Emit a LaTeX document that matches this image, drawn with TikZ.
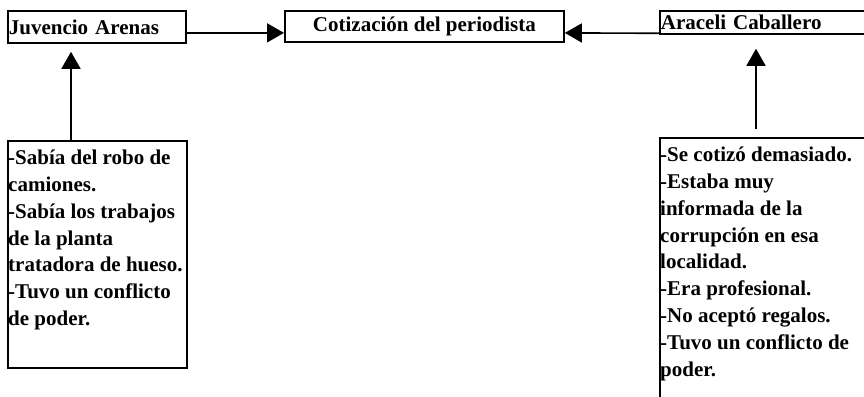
\documentclass[tikz,border=0pt]{standalone}
\usepackage{fontspec}
\setmainfont{Liberation Serif}
\usetikzlibrary{arrows.meta, positioning}

\begin{document}
\begin{tikzpicture}[x=1pt, y=-1pt,
  namebox/.style={draw, line width=1.8pt, inner sep=1pt, anchor=north west},
  boldtext/.style={font=\bfseries\fontsize{21}{26.8}\selectfont},
  link/.style={line width=1.6pt, -{Triangle[length=17pt, width=19pt]}}]
  \clip (0,0) rectangle (864,396);
  % top row
  \node[namebox, boldtext, minimum height=32pt, text width=176pt, align=left] (juvencio) at (7,10) {Juvencio Arenas};
  \node[namebox, boldtext, minimum width=279pt, minimum height=31pt] (cotizacion) at (284,10) {Cotización del periodista};
  \node[namebox, boldtext, minimum height=23pt, text width=240pt, align=left] (araceli) at (659,10) {Araceli Caballero};
  % notes
  \node[namebox, minimum width=179pt, minimum height=227pt] (juvencionotes) at (7,140) {};
  \node[boldtext, align=left, inner xsep=1pt, inner ysep=10pt, anchor=north west] (juvenciotext) at (juvencionotes.north west)
    {-Sabía del robo de\\camiones.\\-Sabía los trabajos\\de la planta\\tratadora de hueso.\\-Tuvo un conflicto\\de poder.};
  \node[namebox, minimum width=260pt, minimum height=300pt] (aracelinotes) at (659,137) {};
  \node[boldtext, align=left, inner xsep=1pt, inner ysep=10pt, anchor=north west] (aracelitext) at (aracelinotes.north west)
    {-Se cotizó demasiado.\\-Estaba muy\\informada de la\\corrupción en esa\\localidad.\\-Era profesional.\\-No aceptó regalos.\\-Tuvo un conflicto de\\poder.};
  % arrows
  \draw[link] ([yshift=-6pt]juvencio.east) -- ([yshift=-6.5pt]cotizacion.west);
  \draw[link] ([yshift=1.5pt]araceli.south west) -- ([yshift=-6.5pt]cotizacion.east);
  \draw[link, shorten >=8pt] ([xshift=64pt]juvencionotes.north west) -- ([xshift=64pt]juvencio.south west);
  \draw[link, shorten <=8pt, shorten >=14pt] ([xshift=97pt]aracelinotes.north west) -- ([xshift=97pt]araceli.south west);
\end{tikzpicture}
\end{document}
